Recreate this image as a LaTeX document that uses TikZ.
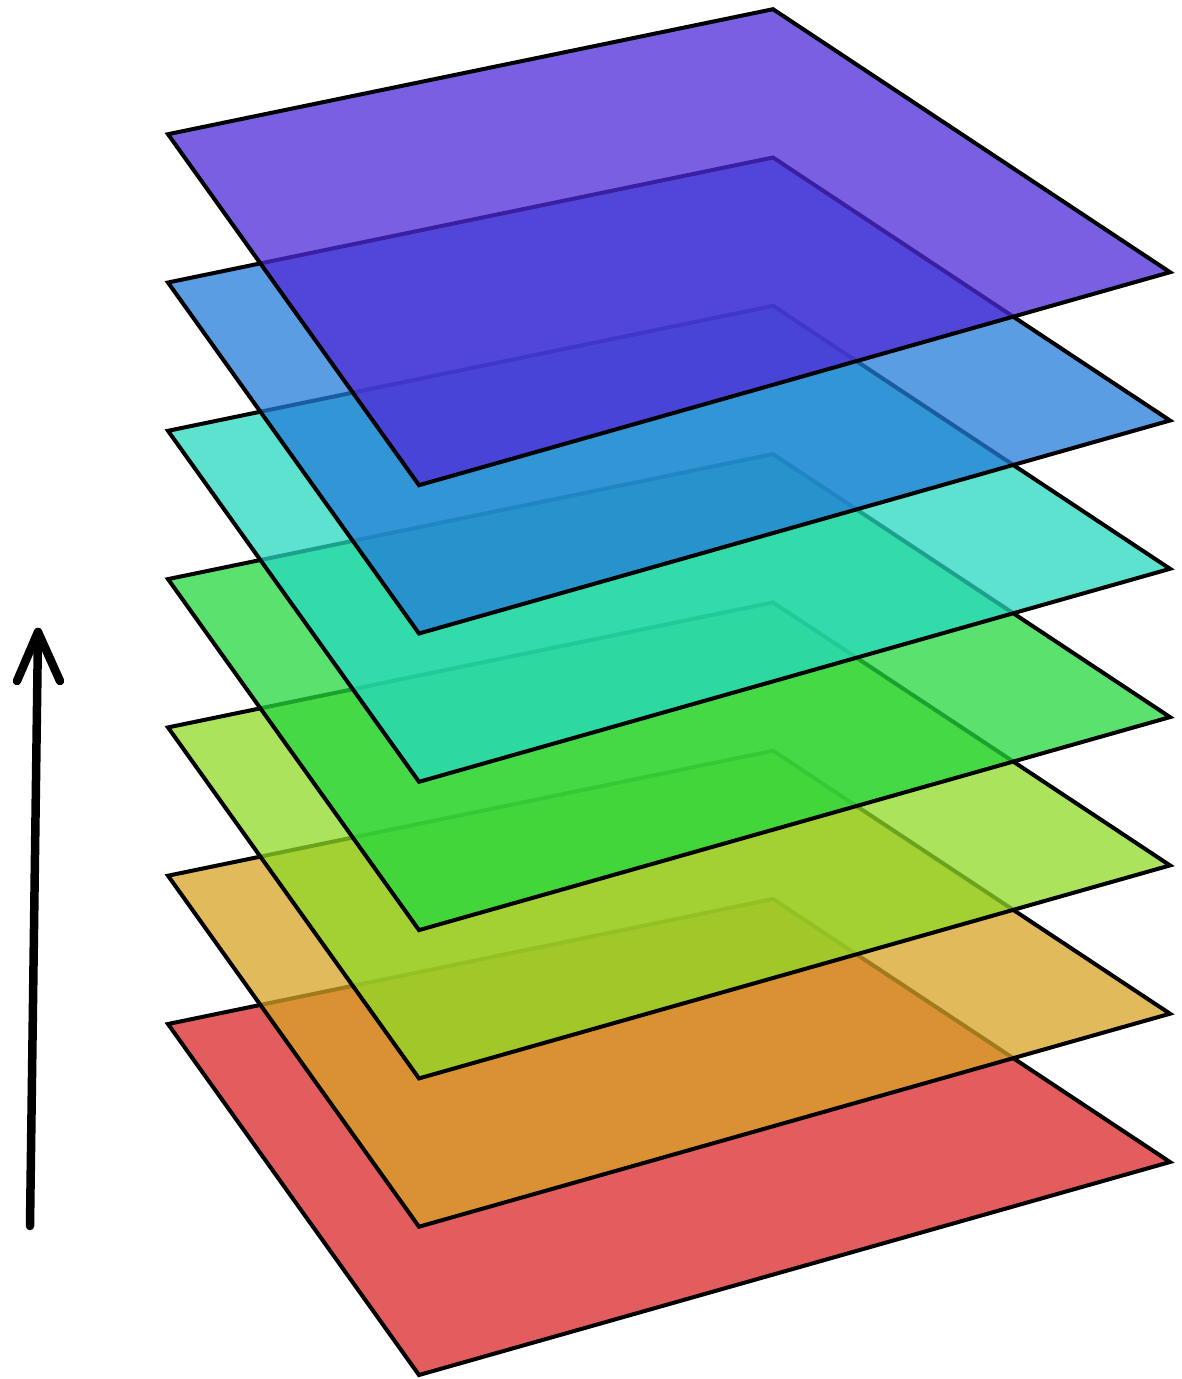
\documentclass[tikz,border=0pt]{standalone}
\definecolor{lred}{RGB}{218,39,40}
\definecolor{lorange}{RGB}{215,163,38}
\definecolor{lyellow}{RGB}{143,218,39}
\definecolor{lgreen}{RGB}{36,216,62}
\definecolor{lteal}{RGB}{38,216,190}
\definecolor{lblue}{RGB}{36,124,216}
\definecolor{lpurple}{RGB}{79,42,216}
\tikzset{
  layer/.style={draw=black, line width=4pt, line join=miter, fill opacity=0.75, draw opacity=1},
  uparrow/.style={line width=8.5pt, line cap=round, line join=round}
}
\begin{document}
\begin{tikzpicture}[x=1pt,y=-1pt]
\useasboundingbox (0,0) rectangle (1181,1379);
\foreach \i/\c in {0/lred,1/lorange,2/lyellow,3/lgreen,4/lteal,5/lblue,6/lpurple}{
  \pgfmathsetmacro{\dy}{-148.3*\i}
  \begin{scope}[yshift={-\dy pt}]
    \filldraw[layer, fill=\c] (168,1024) -- (773,899) -- (1170,1162) -- (419,1375) -- cycle;
  \end{scope}
}
\coordinate (tail) at (30,1226);
\coordinate (tip) at (38,632);
\coordinate (wl) at (17,681);
\coordinate (wr) at (60,681);
\draw[uparrow] (tail) -- (tip);
\draw[uparrow] (wl) -- (tip) -- (wr);
\end{tikzpicture}
\end{document}
